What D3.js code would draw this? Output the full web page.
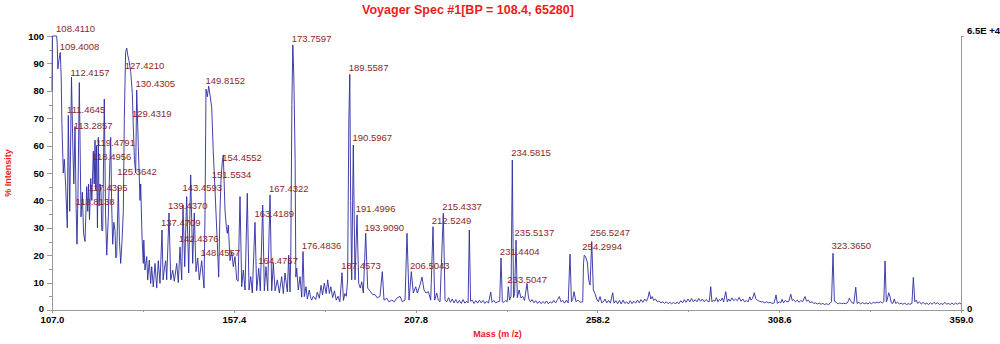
<!DOCTYPE html>
<meta charset="utf-8">
<style>

body {
  margin: 0;
  background: #fff;
  font-family: "Liberation Sans", Arial, sans-serif;
}

.axis path,
.axis line {
  fill: none;
  stroke: #9a9a9a;
  shape-rendering: crispEdges;
}

.axis text {
  fill: #000;
  font-weight: bold;
  font-size: 9.5px;
}

.spectrum {
  fill: none;
  stroke: #2b2ba0;
  stroke-width: 0.9;
}

.peak-label {
  fill: #8e1f1f;
  font-size: 9.5px;
}

.title, .axis-title {
  fill: #f01a1a;
  font-weight: bold;
}

</style>
<body>
<script src="https://d3js.org/d3.v7.min.js"></script>
<script>

var title = "Voyager Spec #1[BP = 108.4, 65280]";
var xTicks = [107.0, 157.4, 207.8, 258.2, 308.6, 359.0];
var yTicks = [0, 10, 20, 30, 40, 50, 60, 70, 80, 90, 100];
var rightTicks = ["0", "6.5E +4"];

// [m/z, % intensity]
var spectrum = [
  [107.00,80],[107.10,100],[108.30,100],[108.45,97],[108.62,88],[108.90,91],[109.30,94],[109.55,85],[109.75,68],
  [110.13,50],[110.41,55],[110.80,45],[111.24,30],[111.52,71],[111.91,36],[112.41,85],[112.80,58],[113.05,46],
  [113.38,67],[113.70,37],[113.93,24],[114.20,42],[114.57,83],[115.04,34],[115.40,43],[115.75,28],[116.15,25],
  [116.62,45],[116.90,36],[117.12,46],[117.40,33],[117.73,48],[118.05,40],[118.45,58],[118.70,46],[118.92,62],
  [119.15,44],[119.34,60],[119.60,30],[119.84,63],[120.05,38],[120.31,46],[120.58,43],[120.80,29],[121.06,29],
  [121.50,77],[121.85,35],[122.17,20],[122.61,34],[122.95,50],[123.27,63],[123.55,38],[123.83,24],[124.15,32],
  [124.47,29],[124.70,19],[124.94,20],[125.38,45],[125.70,25],[126.05,17],[126.40,25],[126.77,36],[127.05,70],
  [127.40,94],[127.71,95.6],[128.00,93],[128.35,91],[128.82,87],[129.27,79],[129.54,67],[129.85,55],[130.20,50],
  [130.48,80.3],[130.93,59.6],[131.40,40],[131.59,46],[131.95,27],[132.31,17],[132.45,25.5],[132.78,14.6],
  [133.25,19.5],[133.53,11],[133.97,18.2],[134.36,9.7],[134.64,15.8],[135.08,8.4],[135.56,17],[136.03,8],
  [136.47,18],[136.94,9.7],[137.50,29.2],[137.80,11],[138.15,15],[138.52,18],[138.80,11],[139.44,35.4],
  [139.91,11],[140.46,14.5],[140.91,10.5],[141.57,17],[142.02,10],[142.49,23],[142.96,11],[143.32,38.3],
  [143.79,15.8],[144.34,41.4],[144.90,13.5],[145.45,49.3],[146.00,17],[146.45,35.4],[146.92,14],[147.39,19],
  [147.84,11],[148.50,18],[149.14,8],[149.42,35],[149.69,80.6],[150.06,77.8],[150.44,81.7],[150.80,78.5],
  [151.27,74],[151.70,58],[152.19,43.8],[152.83,24.4],[153.21,12],[153.58,36.5],[153.86,47.4],[154.20,54],
  [154.49,56.6],[154.96,36.5],[155.33,30.4],[155.60,28],[155.88,31],[156.35,18],[156.82,21.3],[157.26,15.8],
  [157.73,19.5],[158.21,11],[158.60,10.5],[159.12,41.4],[159.59,8.5],[160.04,14.6],[160.51,7.3],[161.14,42.6],
  [161.62,7.3],[162.09,12.2],[162.53,6.2],[163.28,32],[163.75,7],[164.31,15.2],[164.75,7],[165.41,38.3],
  [165.86,7],[166.33,15.8],[166.80,7],[167.44,42],[167.91,7],[168.35,17],[168.85,7],[169.46,11],[170.02,6.2],
  [170.68,12.2],[171.13,6],[171.60,13.5],[172.24,6.6],[172.62,20],[172.98,6.6],[173.20,20],[173.50,75],
  [173.76,96.7],[174.05,85],[174.40,55],[174.60,12],[174.84,15.3],[175.28,7.3],[175.76,12.2],[176.23,4.7],
  [176.59,21.3],[176.95,4.9],[177.42,8.5],[177.78,4],[178.33,7.3],[178.70,4.5],[179.00,3.6],[179.44,5],
  [180.10,3.8],[180.55,6.5],[181.11,4.3],[181.58,9],[182.00,5.5],[182.49,9.8],[183.00,6],[183.43,11],[183.90,6],
  [184.30,8.5],[184.80,4.5],[185.30,7],[185.80,3.6],[186.30,5],[186.80,3],[187.40,13.6],[187.80,3.5],[188.20,6],
  [188.60,5],[188.95,11],[189.30,70],[189.56,86],[189.80,40],[190.09,11],[190.53,60.2],[191.00,11],[191.56,34.7],
  [192.03,9.7],[192.47,8],[192.86,10.3],[193.31,6.2],[193.97,28],[194.52,8],[195.16,6.9],[195.91,5.6],[196.55,5.6],
  [197.19,4.4],[197.93,5],[198.57,14],[199.04,3.6],[199.79,4.3],[200.43,3],[201.18,3.6],[201.90,3],[202.56,4.3],
  [203.48,5],[204.12,3],[204.87,3.6],[205.42,28],[205.98,3.6],[206.61,14],[207.17,6.2],[207.83,8.5],[208.28,6.2],
  [209.02,9.1],[209.58,12],[210.13,7.3],[210.69,6.2],[211.33,6.7],[211.99,3.6],[212.63,30.4],[213.10,3.6],
  [213.65,6.2],[214.10,3.6],[214.57,3],[215.48,35.3],[215.96,3.6],[216.43,3],[216.95,4.5],[217.45,2.8],[217.95,4],
  [218.45,2.6],[218.95,3.8],[219.45,2.5],[219.95,3.5],[220.45,2.4],[220.95,3.8],[221.45,2.5],[221.95,3.2],
  [222.35,2.6],[222.69,29.2],[223.05,3.2],[223.50,3.6],[224.00,2.4],[224.50,3.4],[225.00,2.5],[225.50,3.6],
  [226.00,2.6],[226.50,3.5],[227.00,2.4],[227.50,3.2],[228.00,2.5],[228.63,6.5],[229.00,2.8],[229.50,3.5],
  [230.00,2.6],[230.60,3],[231.10,3.2],[231.48,19],[231.85,3],[232.30,2.8],[232.80,3.5],[233.20,3],[233.50,8.5],
  [233.85,3.6],[234.25,5],[234.61,54.7],[234.95,4.5],[235.25,6],[235.64,25.5],[236.00,4.5],[236.50,7.3],
  [237.00,4.4],[237.50,5],[238.00,3.5],[238.69,9.7],[239.10,4.4],[239.60,3],[240.10,3.8],[240.60,2.6],
  [241.10,3.4],[241.60,2.4],[242.10,3.2],[242.60,2.3],[243.10,3.1],[243.60,2.4],[244.10,3.3],[244.60,2.3],
  [245.10,3],[245.60,2.5],[246.10,3.5],[246.60,2.6],[247.15,3.8],[247.65,4.9],[248.10,3],[248.60,3.5],
  [249.10,2.5],[249.60,3.6],[250.10,2.6],[250.61,20.4],[251.00,3],[251.35,3.8],[251.72,6.7],[252.27,3],
  [252.80,3.6],[253.40,2.8],[254.13,3],[254.35,17],[254.55,20],[254.90,19.5],[255.41,17.5],[255.79,11],
  [256.16,9.1],[256.63,25],[257.07,7.3],[257.54,6],[258.00,4],[258.46,3],[258.93,4.9],[259.40,2.6],[259.84,3],
  [260.30,4],[260.80,2.6],[261.30,3.5],[261.80,2.5],[262.45,6.3],[262.80,2.5],[263.30,3.4],[263.80,2.3],
  [264.30,3.5],[264.80,2.2],[265.30,3.6],[265.80,2.4],[266.30,3],[266.80,2.2],[267.30,3.4],[267.80,2.3],
  [268.30,3.2],[268.80,2.5],[269.30,3.6],[269.80,2.6],[270.30,3.8],[270.80,2.8],[271.30,4],[271.80,3.2],
  [272.20,4.4],[272.59,6.7],[273.00,4],[273.40,4.9],[273.80,3.5],[274.30,4],[274.80,3],[275.30,3.3],[275.80,2.6],
  [276.30,3],[276.80,2.4],[277.30,3],[277.80,2.3],[278.30,2.8],[278.80,2.2],[279.30,2.9],[279.80,2.2],[280.30,2.9],
  [280.80,2.3],[281.30,3.4],[281.80,2.6],[282.30,3.8],[282.80,2.8],[283.30,4],[283.80,3],[284.30,4.2],[284.80,3],
  [285.30,3.8],[285.80,3],[286.30,4.2],[286.80,3.2],[287.30,4],[287.80,3],[288.30,3.8],[288.80,3.2],[289.20,3],
  [289.62,8.5],[289.95,3],[290.40,3.6],[290.80,3.2],[291.20,4.5],[291.60,3],[292.00,3.8],[292.40,3.4],[292.80,4.4],
  [293.20,3],[293.78,6.7],[294.20,3],[294.60,4],[295.00,3.2],[295.50,4.4],[296.00,3.4],[296.50,4],[297.00,3.4],
  [297.50,4.6],[298.00,3.2],[298.50,4],[299.00,3],[299.50,3.4],[300.00,3],[300.45,4.8],[300.80,3.6],[301.20,4.2],
  [301.70,6.3],[302.10,4.2],[302.60,3.5],[303.10,3.2],[303.60,3],[304.10,3],[304.60,2.6],[305.10,3],[305.60,2.6],
  [306.10,2.8],[306.60,2.4],[307.20,2.6],[307.72,5.5],[308.10,2.4],[308.60,3],[309.00,2.6],[309.40,3.9],
  [309.80,2.6],[310.30,3.5],[310.80,3],[311.30,3.2],[311.80,5.8],[312.20,3.5],[312.60,3.8],[313.10,3],[313.60,3.6],
  [314.10,2.8],[314.60,3.5],[315.10,3],[315.76,4.9],[316.20,3.2],[316.70,3.6],[317.20,2.6],[317.70,3],[318.20,2.4],
  [318.70,2.6],[319.20,2.2],[319.70,2.5],[320.20,2.1],[320.70,2.4],[321.20,2],[321.70,2.3],[322.20,2],[322.70,2.4],
  [323.10,3],[323.52,20.7],[323.90,3.2],[324.40,2.8],[324.90,2.2],[325.40,2.6],[325.90,2.3],[326.40,2.5],
  [326.90,2.3],[327.40,2.5],[327.80,3.4],[328.04,4.3],[328.40,3.4],[328.80,2.6],[329.30,2.4],[329.82,8.3],
  [330.20,2.4],[330.70,2.8],[331.20,2.2],[331.70,2.7],[332.20,2.3],[332.70,2.6],[333.20,2.2],[333.70,2.7],
  [334.20,2.3],[334.70,2.8],[335.20,2.5],[335.70,2.9],[336.20,2.6],[336.70,3],[337.20,2.6],[337.60,3],
  [337.94,17.9],[338.30,3],[338.60,4],[338.96,6.3],[339.30,5],[339.70,2.6],[340.10,2.4],[340.50,4],[340.90,2.4],
  [341.40,2.8],[341.90,2.2],[342.40,2.5],[342.90,2.1],[343.40,2.5],[343.90,2],[344.40,2.3],[344.90,2.1],
  [345.40,2.4],[345.79,11.9],[346.20,3],[346.60,3.6],[347.00,2.4],[347.50,3],[348.00,2.2],[348.50,2.8],
  [349.00,2.1],[349.50,2.5],[350.00,2],[350.50,2.6],[351.00,2.1],[351.50,2.8],[352.00,2.2],[352.50,2.7],
  [353.00,2],[353.50,2.4],[354.00,2],[354.50,2.8],[355.00,2.1],[355.50,2.4],[356.00,2],[356.50,2.6],[357.00,2],
  [357.50,2.5],[358.00,2.1],[358.50,2.6],[359.00,2.2]
];

// labelled peaks: m/z and the intensity level the label sits at
var labelMz = [108.4110, 109.4008, 112.4157, 127.4210, 130.4305, 149.8152, 173.7597, 111.4645, 129.4319,
  113.2857, 119.4791, 118.4956, 125.3642, 117.4395, 113.8138, 154.4552, 151.5534, 143.4593, 167.4322,
  139.4370, 163.4189, 137.4709, 142.4376, 148.4557, 164.4757, 176.4836, 189.5587, 190.5967, 234.5815,
  191.4996, 215.4337, 193.9090, 212.5249, 235.5137, 256.5247, 231.4404, 254.2994, 187.4573, 206.5043,
  233.5047, 323.3650];
var labelInt = [102.6, 96.0, 86.5, 89.1, 82.5, 83.6, 98.9, 73.0, 71.5,
  67.2, 60.9, 55.8, 50.4, 44.5, 39.4, 55.5, 49.3, 44.5, 44.2,
  38.0, 35.0, 31.8, 25.9, 20.8, 17.9, 23.4, 88.3, 62.8, 57.3,
  36.9, 37.6, 29.9, 32.5, 28.1, 28.1, 21.2, 23.0, 16.1, 16.1,
  10.9, 23.4];

var margin = {top: 36, right: 39, bottom: 34, left: 52},
    width = 1000 - margin.left - margin.right,
    height = 344 - margin.top - margin.bottom;

var x = d3.scaleLinear()
    .domain([107, 359])
    .range([0, width]);

var y = d3.scaleLinear()
    .domain([0, 100])
    .range([height, 0]);

var svg = d3.select("body").append("svg")
    .attr("width", 1000)
    .attr("height", 344);

svg.append("text")
    .attr("class", "title")
    .attr("x", 468)
    .attr("y", 14)
    .style("text-anchor", "middle")
    .style("font-size", "12.5px")
    .text(title);

var g = svg.append("g")
    .attr("transform", "translate(" + margin.left + "," + margin.top + ")");

// minor ticks
var yMinor = d3.range(5, 100, 10);
g.append("g")
    .attr("class", "axis")
    .call(d3.axisLeft(y).tickValues(yMinor).tickSize(3).tickFormat(""))
    .select(".domain").remove();

var xMinor = d3.range(0, xTicks.length - 1).map(function(i) { return (xTicks[i] + xTicks[i + 1]) / 2; });
g.append("g")
    .attr("class", "axis")
    .attr("transform", "translate(0," + height + ")")
    .call(d3.axisBottom(x).tickValues(xMinor).tickSize(2).tickFormat(""))
    .select(".domain").remove();

g.append("g")
    .attr("class", "axis")
    .call(d3.axisLeft(y).tickValues(yTicks).tickSize(5).tickSizeOuter(0).tickPadding(3).tickFormat(d3.format("d")))
  .selectAll("text")
    .attr("dy", function(d) { return d === 0 ? "0.2em" : "0.32em"; });

g.append("g")
    .attr("class", "axis")
    .attr("transform", "translate(0," + height + ")")
    .call(d3.axisBottom(x).tickValues(xTicks).tickSize(3).tickSizeOuter(0).tickPadding(3).tickFormat(d3.format(".1f")));

var yRight = d3.scaleOrdinal().domain(rightTicks).range([height, 0]);
g.append("g")
    .attr("class", "axis")
    .attr("transform", "translate(" + width + ",0)")
    .call(d3.axisRight(yRight).tickSize(3).tickSizeOuter(0).tickPadding(3))
  .selectAll("text")
    .attr("dy", function(d) { return d === "0" ? "0.15em" : "-0.3em"; });

g.append("path")
    .datum(spectrum)
    .attr("class", "spectrum")
    .attr("d", d3.line()
      .x(function(d) { return x(d[0]); })
      .y(function(d) { return y(d[1]); }));

g.selectAll(".peak-label")
    .data(labelMz)
  .enter().append("text")
    .attr("class", "peak-label")
    .attr("x", function(d) { return x(d) - 1; })
    .attr("y", function(d, i) { return y(labelInt[i]); })
    .attr("dy", ".35em")
    .text(function(d) { return d.toFixed(4); });

g.append("text")
    .attr("class", "axis-title")
    .attr("transform", "translate(" + (-41) + "," + y(50) + ") rotate(-90)")
    .style("text-anchor", "middle")
    .style("font-size", "9px")
    .text("% Intensity");

g.append("text")
    .attr("class", "axis-title")
    .attr("x", x(230.5))
    .attr("y", height + 27)
    .style("text-anchor", "middle")
    .style("font-size", "9px")
    .text("Mass (m /z)");

</script>
